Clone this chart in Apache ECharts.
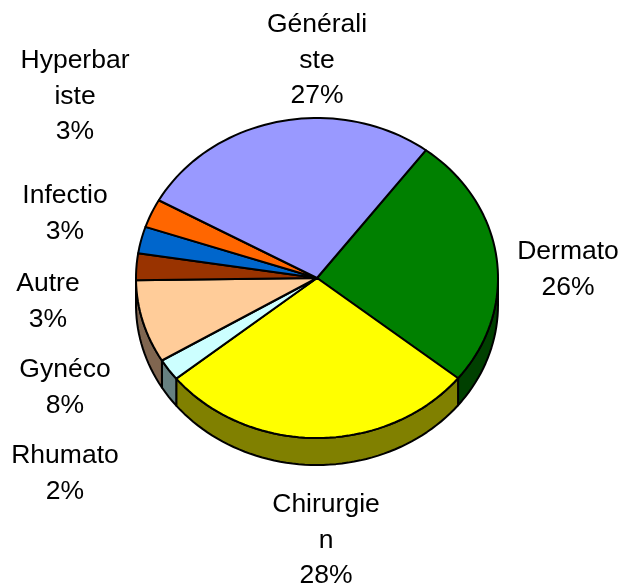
<!DOCTYPE html>
<html>
<head>
<meta charset="utf-8">
<style>
html, body { margin: 0; padding: 0; background: #fff; }
#main { width: 621px; height: 586px; }
</style>
<script src="https://cdn.jsdelivr.net/npm/echarts@6/dist/echarts.min.js"></script>
</head>
<body>
<div id="main"></div>
<script>
// clockwise from the start angle
var categories = ['Dermato', 'Chirurgie\nn', 'Rhumato', 'Gynéco', 'Autre', 'Infectio', 'Hyperbar\niste', 'Générali\nste'];
var values = [25.5, 28.4, 2.2, 8.4, 2.7, 2.7, 2.9, 27.2];

var topColors = ['#008000', '#FFFF00', '#CCFFFF', '#FFCC99', '#993300', '#0066CC', '#FF6600', '#9999FF'];
var wallColors = ['#004000', '#808000', '#668080', '#806650', '#4d1a00', '#003366', '#803300', '#4d4d80'];
// centre of each label block, same order as categories
var labelCenters = [[568, 269.5], [326, 540.5], [65, 473.5], [65, 387.5], [48, 301.5], [65, 213.5], [75, 96.5], [317, 60.5]];

var cx = 317, cy = 278, rx = 181, ry = 160, depth = 27;
var startAngle = 37;

function pt(deg, off) {
    var r = deg * Math.PI / 180;
    return [cx + rx * Math.sin(r), cy - ry * Math.cos(r) + (off || 0)];
}
function arc(from, to, off) {
    var pts = [];
    var n = Math.max(1, Math.ceil((to - from) / 2));
    for (var i = 0; i <= n; i++) {
        pts.push(pt(from + (to - from) * i / n, off));
    }
    return pts;
}
function sliceRange(idx) {
    var a = startAngle;
    for (var i = 0; i < idx; i++) a += values[i] * 3.6;
    return [a, a + values[idx] * 3.6];
}

function renderWall(params, api) {
    var idx = api.value(0);
    var r = sliceRange(idx);
    // only the front half of the disc shows a wall
    var from = Math.max(r[0], 90), to = Math.min(r[1], 270);
    if (to <= from) return { type: 'group', children: [] };
    var top = arc(from, to, 0);
    var bottom = arc(from, to, depth).reverse();
    return {
        type: 'polygon',
        shape: { points: top.concat(bottom) },
        style: { fill: wallColors[idx], stroke: '#000', lineWidth: 2, lineJoin: 'round' }
    };
}
function renderTop(params, api) {
    var idx = api.value(0);
    var r = sliceRange(idx);
    return {
        type: 'polygon',
        shape: { points: [[cx, cy]].concat(arc(r[0], r[1], 0)) },
        style: { fill: topColors[idx], stroke: '#000', lineWidth: 2, lineJoin: 'round' }
    };
}
function renderLabel(params, api) {
    var idx = api.value(0);
    return {
        type: 'text',
        x: labelCenters[idx][0],
        y: labelCenters[idx][1],
        style: {
            text: categories[idx] + '\n' + Math.round(values[idx]) + '%',
            fill: '#000',
            font: '26.5px "Liberation Sans", Arial, sans-serif',
            lineHeight: 35.5,
            align: 'center',
            verticalAlign: 'middle'
        }
    };
}

var indexData = categories.map(function (c, i) { return [i]; });
var chart = echarts.init(document.getElementById('main'));
chart.setOption({
    animation: false,
    backgroundColor: '#fff',
    series: [
        { type: 'custom', coordinateSystem: 'none', silent: true, data: indexData, encode: { tooltip: [] }, renderItem: renderWall, z: 1 },
        { type: 'custom', coordinateSystem: 'none', silent: true, data: indexData, encode: { tooltip: [] }, renderItem: renderTop, z: 2 },
        { type: 'custom', coordinateSystem: 'none', silent: true, data: indexData, encode: { tooltip: [] }, renderItem: renderLabel, z: 3 }
    ]
});
</script>
</body>
</html>
